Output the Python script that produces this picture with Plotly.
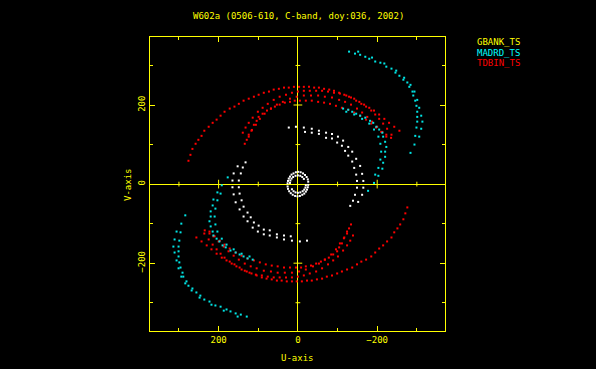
import plotly.graph_objects as go

# ---------------- data (u, v) in the units of the plot axes ----------------
TITLE = "W602a (0506-610, C-band, doy:036, 2002)"
BASELINES = ["GBANK_TS", "MADRD_TS", "TDBIN_TS"]
LEGEND_COLORS = ["#ffff00", "#00ffff", "#ff0000"]
POINT_COLORS = {"GBANK_TS": "#ffffff", "MADRD_TS": "#00e5e5", "TDBIN_TS": "#ff0000"}

U_RANGE = [373, -371]
V_RANGE = [-371.5, 372]
MAJOR_TICKS = [-200, 0, 200]
CROSS_TICKS = [-300, -200, -100, 100, 200, 300]

# TDBIN_TS tracks (upper half and conjugate half)
tdbin_up_1 = [(276,59),(271,74),(266,89),(258,102),(251,112),(243,122),(236,135),(225,145),(215,155),(205,163),(195,173),(185,183),(172,191),(160,196),(149,203),(137,211),(124,216),(111,221),(99,226),(86,231),(73,234),(61,239),(48,241),(35,244),(23,244),(10,246),(-3,246),(-15,246),(-28,246),(-41,244),(-53,244),(-66,241),(-79,239),(-91,236),(-104,231),(-117,226),(-129,221),(-142,216),(-155,208),(-167,201),(-180,193),(-192,186),(-205,176),(-218,165),(-230,155),(-243,145),(-256,135)]
tdbin_up_2 = [(139,130),(132,143),(124,155),(114,168),(101,183),(89,193),(76,203),(61,213),(46,221),(30,226),(15,231),(0,234),(-15,236),(-30,236),(-46,236),(-61,236),(-76,234),(-91,231),(-106,229),(-122,224),(-134,219),(-147,211),(-160,203),(-172,196),(-185,186),(-195,176),(-205,165),(-215,153),(-225,140),(-236,125)]
tdbin_up_3 = [(124,120),(117,135),(106,150),(96,165),(84,178),(68,191),(53,201),(38,208),(20,216),(3,221),(-15,224),(-33,224),(-51,224),(-68,221),(-86,219),(-104,213),(-119,208),(-134,201),(-149,191),(-162,181),(-175,170),(-187,158),(-200,145),(-213,132),(-223,120)]
tdbin_up_4 = [(134,102),(129,112),(124,125),(116,137),(111,150),(104,160),(99,170),(89,178),(78,186),(68,191),(58,196),(46,201),(33,206),(20,208),(8,211),(-5,211),(-20,211),(-35,211),(-51,208),(-66,206),(-81,203),(-96,198),(-111,193),(-127,188),(-142,181),(-157,173),(-172,163),(-185,153),(-197,143),(-210,132),(-223,125),(-235,117)]
tdbin_lo_1 = [(-276,-59),(-271,-74),(-266,-89),(-258,-102),(-251,-112),(-243,-122),(-236,-135),(-225,-145),(-215,-155),(-205,-163),(-195,-173),(-185,-183),(-172,-191),(-160,-196),(-149,-203),(-137,-211),(-124,-216),(-111,-221),(-99,-226),(-86,-231),(-73,-234),(-61,-239),(-48,-241),(-35,-244),(-23,-244),(-10,-246),(3,-246),(15,-246),(28,-246),(41,-244),(53,-244),(66,-241),(79,-239),(91,-236),(104,-231),(117,-226),(129,-221),(142,-216),(155,-208),(167,-201),(180,-193),(192,-186),(205,-176),(218,-165),(230,-155),(243,-145),(256,-135)]
tdbin_lo_2 = [(-139,-130),(-132,-143),(-124,-155),(-114,-168),(-101,-183),(-89,-193),(-76,-203),(-61,-213),(-46,-221),(-30,-226),(-15,-231),(0,-234),(15,-236),(30,-236),(46,-236),(61,-236),(76,-234),(91,-231),(106,-229),(122,-224),(134,-219),(147,-211),(160,-203),(172,-196),(185,-186),(195,-176),(205,-165),(215,-153),(225,-140),(236,-125)]
tdbin_lo_3 = [(-124,-120),(-117,-135),(-106,-150),(-96,-165),(-84,-178),(-68,-191),(-53,-201),(-38,-208),(-20,-216),(-3,-221),(15,-224),(33,-224),(51,-224),(68,-221),(86,-219),(104,-213),(119,-208),(134,-201),(149,-191),(162,-181),(175,-170),(187,-158),(200,-145),(213,-132),(223,-120)]
tdbin_lo_4 = [(-134,-102),(-129,-112),(-124,-125),(-116,-137),(-111,-150),(-104,-160),(-99,-170),(-89,-178),(-78,-186),(-68,-191),(-58,-196),(-46,-201),(-33,-206),(-20,-208),(-8,-211),(5,-211),(20,-211),(35,-211),(51,-208),(66,-206),(81,-203),(96,-198),(111,-193),(127,-188),(142,-181),(157,-173),(172,-163),(185,-153),(197,-143),(210,-132),(223,-125),(235,-117)]

# MADRD_TS tracks
madrd_up_1 = [(-129,335),(-144,330),(-157,327),(-170,322),(-180,317),(-195,310),(-208,307),(-223,297),(-236,292),(-246,282),(-256,274),(-266,264),(-276,257),(-281,246),(-289,234),(-291,224),(-296,211),(-299,198),(-301,183),(-301,170),(-301,158),(-299,143),(-296,122),(-294,100),(-284,79)]
madrd_up_2 = [(-152,335),(-187,320),(-218,305),(-248,287),(-268,269),(-284,251),(-294,234),(-301,213),(-306,193),(-311,173),(-314,158),(-311,140),(-306,120)]
madrd_up_3 = [(-114,191),(-127,188),(-137,183),(-147,178),(-157,173),(-170,168),(-182,160),(-190,155),(-198,145),(-205,138),(-213,130),(-215,120),(-220,107),(-223,94),(-220,82),(-220,69),(-215,54),(-213,39),(-203,21),(-192,3),(-177,-17)]
madrd_up_4 = [(-122,183),(-142,176),(-162,165),(-180,153),(-192,138),(-203,120),(-208,102),(-210,82),(-208,62),(-203,41),(-195,24)]
madrd_lo_1 = [(129,-335),(144,-330),(157,-327),(170,-322),(180,-317),(195,-310),(208,-307),(223,-297),(236,-292),(246,-282),(256,-274),(266,-264),(276,-257),(281,-246),(289,-234),(291,-224),(296,-211),(299,-198),(301,-183),(301,-170),(301,-158),(299,-143),(296,-122),(294,-100),(284,-79)]
madrd_lo_2 = [(152,-335),(187,-320),(218,-305),(248,-287),(268,-269),(284,-251),(294,-234),(301,-213),(306,-193),(311,-173),(314,-158),(311,-140),(306,-120)]
madrd_lo_3 = [(114,-191),(127,-188),(137,-183),(147,-178),(157,-173),(170,-168),(182,-160),(190,-155),(198,-145),(205,-138),(213,-130),(215,-120),(220,-107),(223,-94),(220,-82),(220,-69),(215,-54),(213,-39),(203,-21),(192,-3),(177,17)]
madrd_lo_4 = [(122,-183),(142,-176),(162,-165),(180,-153),(192,-138),(203,-120),(208,-102),(210,-82),(208,-62),(203,-41),(195,-24)]

# GBANK_TS tracks
gbank_up_1 = [(23,143),(5,145),(-15,143),(-35,140),(-53,135),(-71,130),(-86,127),(-101,120),(-114,110),(-127,94),(-137,82),(-147,64),(-157,46),(-162,26),(-165,8),(-165,-9),(-162,-27),(-152,-45)]
gbank_up_2 = [(-18,132),(-35,130),(-53,127),(-71,117),(-86,115),(-99,105),(-111,97),(-119,84),(-127,72),(-137,57),(-142,41),(-147,24),(-149,8),(-149,-9),(-144,-27),(-139,-42),(-132,-55)]
gbank_lo_1 = [(-23,-143),(-5,-145),(15,-143),(35,-140),(53,-135),(71,-130),(86,-127),(101,-120),(114,-110),(127,-94),(137,-82),(147,-64),(157,-46),(162,-26),(165,-8),(165,9),(162,27),(152,45)]
gbank_lo_2 = [(18,-132),(35,-130),(53,-127),(71,-117),(86,-115),(99,-105),(111,-97),(119,-84),(127,-72),(137,-57),(142,-41),(147,-24),(149,-8),(149,9),(144,27),(139,42),(132,55)]
gbank_short_up = [(26,2),(25,8),(23,14),(20,19),(16,24),(11,27),(5,30),(-1,31),(-7,30),(-13,27),(-18,23),(-22,18),(-25,12),(-26,6),
                  (20,3),(19,9),(16,14),(12,18),(6,21),(0,22),(-6,21),(-11,18),(-15,13)]
gbank_short_lo = [(-26,-2),(-25,-8),(-23,-14),(-20,-19),(-16,-24),(-11,-27),(-5,-30),(1,-31),(7,-30),(13,-27),(18,-23),(22,-18),(25,-12),(26,-6),
                  (-20,-3),(-19,-9),(-16,-14),(-12,-18),(-6,-21),(0,-22),(6,-21),(11,-18),(15,-13)]

TRACKS = {
    "TDBIN_TS": [tdbin_up_1, tdbin_up_2, tdbin_up_3, tdbin_up_4, tdbin_lo_1, tdbin_lo_2, tdbin_lo_3, tdbin_lo_4],
    "MADRD_TS": [madrd_up_1, madrd_up_2, madrd_up_3, madrd_up_4, madrd_lo_1, madrd_lo_2, madrd_lo_3, madrd_lo_4],
    "GBANK_TS": [gbank_up_1, gbank_up_2, gbank_lo_1, gbank_lo_2, gbank_short_up, gbank_short_lo],
}

YEL = "#ffff00"
FONT = "DejaVu Sans Mono"

fig = go.Figure()
for name in ["TDBIN_TS", "MADRD_TS", "GBANK_TS"]:
    us, vs = [], []
    for tr in TRACKS[name]:
        us += [p[0] for p in tr]
        vs += [p[1] for p in tr]
    fig.add_trace(go.Scatter(x=us, y=vs, mode="markers", name=name, showlegend=False,
                             hoverinfo="skip",
                             marker=dict(symbol="square", size=2, color=POINT_COLORS[name],
                                         line=dict(width=0))))

# ticks across the zero lines
shapes = []
for t in CROSS_TICKS:
    half = 11 if t % 200 == 0 else 6
    shapes.append(dict(type="line", xref="x", yref="y", x0=t, x1=t, y0=-half, y1=half,
                       line=dict(color=YEL, width=1)))
    shapes.append(dict(type="line", xref="x", yref="y", x0=-half, x1=half, y0=t, y1=t,
                       line=dict(color=YEL, width=1)))

axis_common = dict(showgrid=False, zeroline=True, zerolinecolor=YEL, zerolinewidth=1,
                   showline=True, linecolor=YEL, linewidth=1, mirror="ticks",
                   ticks="inside", ticklen=5, tickcolor=YEL, tickwidth=1,
                   tickvals=MAJOR_TICKS,
                   minor=dict(ticks="inside", dtick=100, tick0=0, ticklen=3, tickcolor=YEL, tickwidth=1),
                   tickfont=dict(family=FONT, size=9, color=YEL))

fig.update_layout(
    width=596, height=369,
    margin=dict(l=150, r=151, t=37, b=38),
    paper_bgcolor="black", plot_bgcolor="black",
    font=dict(family=FONT, size=9, color=YEL),
    xaxis=dict(range=U_RANGE, **axis_common),
    yaxis=dict(range=V_RANGE, tickangle=-90, **axis_common),
    shapes=shapes,
)

ann = [
    dict(text=TITLE, x=0.502, y=1.071, xref="paper", yref="paper", showarrow=False,
         font=dict(family=FONT, size=9, color=YEL), xanchor="center", yanchor="middle"),
    dict(text="U-axis", x=0.5, y=-0.092, xref="paper", yref="paper", showarrow=False,
         font=dict(family=FONT, size=9, color=YEL), xanchor="center", yanchor="middle"),
    dict(text="V-axis", x=-0.0746, y=0.5, xref="paper", yref="paper", showarrow=False,
         textangle=-90, font=dict(family=FONT, size=9, color=YEL), xanchor="center", yanchor="middle"),
]
leg_y = [0.983, 0.947, 0.913]
for name, col, yy in zip(BASELINES, LEGEND_COLORS, leg_y):
    ann.append(dict(text=name, x=1.1017, y=yy, xref="paper", yref="paper", showarrow=False,
                    font=dict(family=FONT, size=9, color=col), xanchor="left", yanchor="middle"))
fig.update_layout(annotations=ann)

fig.write_html("out.html", config={"displayModeBar": False},
               post_script="document.body.style.margin='0px';document.body.style.overflow='hidden';")
